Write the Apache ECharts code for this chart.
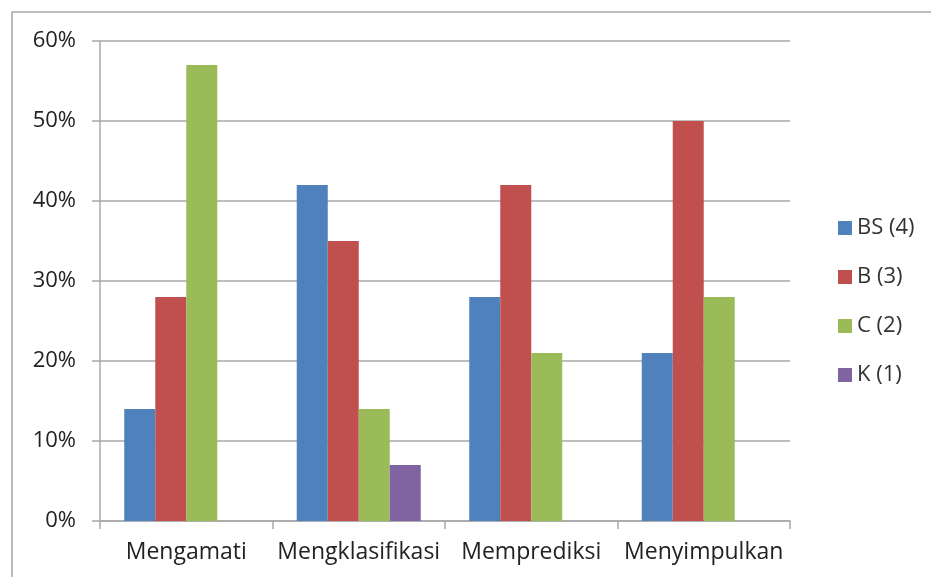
<!DOCTYPE html>
<html>
<head>
<meta charset="utf-8">
<script src="https://cdn.jsdelivr.net/npm/echarts@6/dist/echarts.min.js"></script>
<style>
  html, body { margin: 0; padding: 0; background: #fff; }
  #chart { width: 931px; height: 577px; }
</style>
</head>
<body>
<div id="chart"></div>
<script>
// Aspects of science process skills
const categories = ['Mengamati', 'Mengklasifikasi', 'Memprediksi', 'Menyimpulkan'];
const seriesNames = ['BS (4)', 'B (3)', 'C (2)', 'K (1)'];
const bsValues = [14, 42, 28, 21];
const bValues = [28, 35, 42, 50];
const cValues = [57, 14, 21, 28];
const kValues = [null, 7, null, null];
const yTicks = [0, 10, 20, 30, 40, 50, 60];

const colors = ['#4F81BD', '#C0504D', '#9BBB59', '#8064A2'];
const fontFamily = '"Open Sans", "Noto Sans", sans-serif';
const lineColor = '#a8a8a8';

const chart = echarts.init(document.getElementById('chart'));
const dataSets = [bsValues, bValues, cValues, kValues];

chart.setOption({
  animation: false,
  color: colors,
  graphic: [{
    type: 'rect',
    shape: { x: 12, y: 12, width: 1000, height: 700 },
    style: { fill: 'none', stroke: '#bdbdbd', lineWidth: 2 },
    silent: true
  }],
  grid: { left: 100, right: 141, top: 41, bottom: 56 },
  legend: {
    orient: 'vertical',
    left: 833,
    top: 212,
    itemWidth: 14,
    itemHeight: 14,
    itemGap: 27,
    icon: 'rect',
    textStyle: { fontFamily, fontSize: 22, color: '#333' },
    data: seriesNames
  },
  xAxis: {
    type: 'category',
    data: categories,
    axisLine: { lineStyle: { color: lineColor, width: 1.5 } },
    axisTick: { show: true, length: 8, lineStyle: { color: lineColor, width: 1.5 } },
    axisLabel: { interval: 0, margin: 20, fontFamily, fontSize: 23, color: '#222' }
  },
  yAxis: {
    type: 'value',
    min: yTicks[0],
    max: yTicks[yTicks.length - 1],
    interval: 10,
    axisLine: { show: true, lineStyle: { color: lineColor, width: 1.5 } },
    axisTick: { show: true, length: 8, lineStyle: { color: lineColor, width: 1.5 } },
    splitLine: { lineStyle: { color: lineColor, width: 1.5 } },
    axisLabel: { margin: 24, fontFamily, fontSize: 22, color: '#222', formatter: '{value}%' }
  },
  series: seriesNames.map((name, i) => ({
    name,
    type: 'bar',
    data: dataSets[i],
    barWidth: 31,
    barGap: '0%',
    itemStyle: { color: colors[i] }
  }))
});
</script>
</body>
</html>
